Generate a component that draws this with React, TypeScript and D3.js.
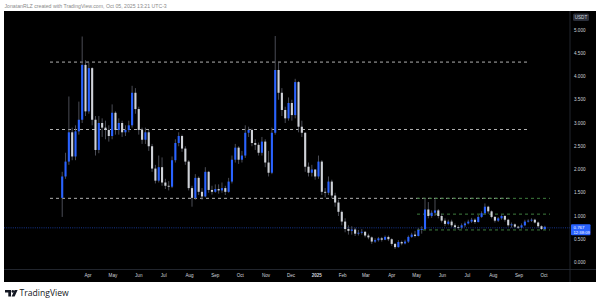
import React from "react";
import * as d3 from "d3";

const HEADER = "JonatanRLZ created with TradingView.com, Oct 05, 2025 13:21 UTC-3";
const START = "2024-03-01";
const STEP_DAYS = 4;
const FIRST_OPEN = 1.39;
const CLOSES = [
  1.85, 2.17, 2.8, 2.28, 2.82, 3.07, 4.25, 3.25, 4.18, 3.07,
  2.42, 3.0, 2.9, 2.85, 2.72, 3.22, 2.85, 3.0, 2.8, 2.85,
  2.95, 3.65, 3.3, 2.85, 2.64, 2.8, 2.5, 2.02, 1.76, 2.05,
  1.72, 1.65, 1.63, 2.2, 2.57, 2.72, 2.45, 2.17, 1.6, 1.39,
  1.82, 1.52, 1.42, 1.95, 1.56, 1.52, 1.58, 1.55, 1.6, 1.52,
  1.74, 2.21, 2.47, 2.21, 2.3, 2.79, 2.85, 2.57, 2.53, 2.36,
  2.6, 2.15, 1.93, 2.79, 4.14, 3.65, 3.28, 3.1, 3.43, 3.17,
  3.88, 2.92, 2.79, 2.06, 1.93, 2.0, 1.85, 2.17, 1.52, 1.5,
  1.74, 1.44, 1.29, 1.09, 0.88, 0.72, 0.68, 0.71, 0.62, 0.64,
  0.66, 0.58, 0.54, 0.45, 0.48, 0.52, 0.49, 0.55, 0.5, 0.4,
  0.33, 0.44, 0.41, 0.45, 0.55, 0.6, 0.57, 0.7, 0.72, 1.14,
  1.0, 1.07, 1.12, 1.0, 0.9, 0.83, 0.88, 0.8, 0.76, 0.75,
  0.8, 0.84, 0.88, 0.92, 0.87, 0.98, 1.06, 1.2, 1.1, 0.98,
  0.9, 0.95, 1.0, 0.92, 0.8, 0.82, 0.77, 0.75, 0.8, 0.88,
  0.9, 0.92, 0.86, 0.78, 0.72, 0.767,
];
const HIGHS = [
  1.95, 2.36, 3.57, 2.9, 2.95, 3.46, 4.86, 4.35, 4.3, 4.2,
  3.15, 3.15, 3.1, 3.05, 2.95, 3.4, 3.25, 3.1, 3.05, 2.95,
  3.05, 3.8, 3.75, 3.35, 2.9, 2.9, 2.85, 2.55, 2.1, 2.3,
  2.26, 1.8, 1.75, 2.28, 2.65, 2.8, 2.75, 2.5, 2.2, 1.65,
  1.9, 1.85, 1.6, 2.05, 1.97, 1.65, 1.68, 1.68, 1.72, 1.65,
  1.82, 2.3, 2.55, 2.5, 2.4, 2.95, 2.92, 2.88, 2.65, 2.58,
  2.7, 2.65, 2.4, 2.9, 4.87, 4.3, 3.75, 3.35, 3.55, 3.5,
  3.95, 3.9, 3.05, 2.8, 2.15, 2.1, 2.0, 2.3, 2.2, 1.6,
  1.85, 1.78, 1.5, 1.35, 1.12, 0.95, 0.8, 0.78, 0.75, 0.7,
  0.72, 0.68, 0.62, 0.56, 0.52, 0.55, 0.55, 0.58, 0.58, 0.52,
  0.42, 0.48, 0.47, 0.49, 0.58, 0.64, 0.68, 0.74, 0.78, 1.38,
  1.3, 1.12, 1.36, 1.15, 1.05, 0.95, 0.92, 0.92, 0.84, 0.8,
  0.84, 0.88, 0.92, 0.96, 0.95, 1.02, 1.1, 1.27, 1.22, 1.12,
  1.0, 0.98, 1.03, 1.02, 0.94, 0.86, 0.84, 0.79, 0.84, 0.92,
  0.93, 0.95, 0.94, 0.88, 0.8, 0.79,
];
const LOWS = [
  0.98, 1.8, 2.1, 2.2, 2.2, 2.75, 3.0, 3.15, 3.2, 2.95,
  2.3, 2.35, 2.7, 2.65, 2.6, 2.65, 2.75, 2.75, 2.7, 2.72,
  2.8, 2.9, 3.2, 2.75, 2.55, 2.55, 2.4, 1.95, 1.7, 1.72,
  1.65, 1.58, 1.55, 1.6, 2.15, 2.5, 2.38, 2.1, 1.55, 1.2,
  1.35, 1.45, 1.35, 1.4, 1.5, 1.46, 1.5, 1.48, 1.5, 1.45,
  1.5, 1.7, 2.15, 2.12, 2.15, 2.25, 2.7, 2.5, 2.42, 2.3,
  2.3, 2.05, 1.85, 1.9, 2.75, 3.5, 3.15, 3.0, 3.05, 3.05,
  3.1, 2.8, 2.7, 1.95, 1.85, 1.85, 1.78, 1.8, 1.45, 1.4,
  1.45, 1.38, 1.2, 1.0, 0.8, 0.65, 0.6, 0.6, 0.57, 0.58,
  0.6, 0.54, 0.5, 0.4, 0.42, 0.45, 0.45, 0.48, 0.46, 0.36,
  0.29, 0.32, 0.37, 0.39, 0.42, 0.53, 0.54, 0.56, 0.62, 0.7,
  0.95, 0.96, 1.0, 0.95, 0.86, 0.78, 0.8, 0.76, 0.72, 0.7,
  0.72, 0.76, 0.82, 0.85, 0.83, 0.86, 0.96, 1.04, 1.05, 0.95,
  0.86, 0.87, 0.92, 0.88, 0.77, 0.75, 0.74, 0.72, 0.73, 0.78,
  0.86, 0.87, 0.84, 0.74, 0.7, 0.7,
];
const PRICE_TICKS = [0, 0.5, 1, 1.5, 2, 2.5, 3, 3.5, 4, 4.5, 5];
const TIME_TICKS: [string, string][] = [
  ["2024-04-01", "Apr"], ["2024-05-01", "May"], ["2024-06-01", "Jun"],
  ["2024-07-01", "Jul"], ["2024-08-01", "Aug"], ["2024-09-01", "Sep"],
  ["2024-10-01", "Oct"], ["2024-11-01", "Nov"], ["2024-12-01", "Dec"],
  ["2025-01-01", "2025"], ["2025-02-01", "Feb"], ["2025-03-01", "Mar"],
  ["2025-04-01", "Apr"], ["2025-05-01", "May"], ["2025-06-01", "Jun"],
  ["2025-07-01", "Jul"], ["2025-08-01", "Aug"], ["2025-09-01", "Sep"],
  ["2025-10-01", "Oct"],
];
const CURRENCY = "USDT";
const LAST_PRICE = 0.767;
const COUNTDOWN = "12:38:09";
const GRAY_LEVELS = [4.31, 2.86, 1.38];
const GREEN_LEVELS = [1.38, 1.04, 0.7];

const FONT = "'Liberation Sans', Arial, sans-serif";
const UP = "#2962ff";
const DOWN = "#cfd2d8";
const WICK = "#5d606b";

export default function App() {
  const W = 600, H = 307;
  const panel = { x0: 4, x1: 596, y0: 11, y1: 282 };
  const axisX = 570;
  const axisY = 269.5;

  const x = d3.scaleUtc()
    .domain([new Date("2024-04-01T00:00:00Z"), new Date("2025-10-01T00:00:00Z")])
    .range([88, 544]);
  const y = d3.scaleLinear().domain([0, 5]).range([262.5, 30]);

  const start = new Date(START + "T00:00:00Z");
  const candles = CLOSES.map((c, i) => {
    const o = i === 0 ? FIRST_OPEN : CLOSES[i - 1];
    const d = d3.utcDay.offset(start, i * STEP_DAYS);
    return {
      d, o, c,
      h: Math.max(HIGHS[i], o, c),
      l: Math.min(LOWS[i], o, c),
    };
  });
  const bw = 2.1;

  const grayExtents: [number, number][] = [[50, 528], [50, 528], [50, 512]];
  const greenExtent: [number, number] = [417, 550];

  return (
    <div style={{ position: "fixed", left: 0, top: 0, width: W, height: H, background: "#fff" }}>
      <svg width={W} height={H} style={{ display: "block" }} fontFamily={FONT}>
        <rect x={0} y={0} width={W} height={H} fill="#fff" />
        <text x={4.5} y={7.5} fontSize={5.2} fill="#8a8a8a">{HEADER}</text>
        <rect x={panel.x0} y={panel.y0} width={panel.x1 - panel.x0} height={panel.y1 - panel.y0} fill="#000" />
        <line x1={axisX} x2={axisX} y1={panel.y0} y2={panel.y1} stroke="#2a2e39" strokeWidth={0.8} />
        <line x1={panel.x0} x2={panel.x1} y1={axisY} y2={axisY} stroke="#2a2e39" strokeWidth={0.8} />

        <line x1={panel.x0} x2={axisX} y1={y(LAST_PRICE) + 1} y2={y(LAST_PRICE) + 1}
          stroke={UP} strokeWidth={0.7} strokeDasharray="1,1.2" opacity={0.8} />

        {GRAY_LEVELS.map((p, i) => (
          <line key={"g" + i} x1={grayExtents[i][0]} x2={grayExtents[i][1]} y1={y(p)} y2={y(p)}
            stroke="#b0b0b0" strokeWidth={1} strokeDasharray="3,3" />
        ))}
        {GREEN_LEVELS.map((p, i) => (
          <line key={"gr" + i} x1={greenExtent[0]} x2={greenExtent[1]} y1={y(p)} y2={y(p)}
            stroke="#3f7d3f" strokeWidth={1} strokeDasharray="3,3" />
        ))}

        {candles.map((k, i) => {
          const cx = x(k.d);
          const up = k.c >= k.o;
          const top = y(Math.max(k.o, k.c));
          const bot = y(Math.min(k.o, k.c));
          return (
            <g key={i}>
              <line x1={cx} x2={cx} y1={y(k.h)} y2={y(k.l)} stroke={WICK} strokeWidth={0.8} />
              <rect x={cx - bw / 2} y={top} width={bw} height={Math.max(0.8, bot - top)} fill={up ? UP : DOWN} />
            </g>
          );
        })}

        <rect x={573} y={13.5} width={16} height={7.5} rx={1.5} fill="#2a2e39" />
        <text x={581} y={19} fontSize={4.6} fill="#d1d4dc" textAnchor="middle">{CURRENCY}</text>
        {PRICE_TICKS.map((p) => (
          <text key={p} x={574} y={y(p) + 1.6} fontSize={4.6} fill="#d1d4dc">{p.toFixed(3)}</text>
        ))}
        <rect x={571} y={y(LAST_PRICE) - 2.5} width={19.5} height={11} rx={1} fill={UP} />
        <text x={573.5} y={y(LAST_PRICE) + 2.6} fontSize={4.4} fill="#fff">{LAST_PRICE.toFixed(3)}</text>
        <text x={573.5} y={y(LAST_PRICE) + 7.2} fontSize={4.2} fill="#fff">{COUNTDOWN}</text>

        {TIME_TICKS.map(([d, label]) => (
          <text key={d} x={x(new Date(d + "T00:00:00Z"))} y={277} fontSize={4.6} textAnchor="middle"
            fill="#d1d4dc" fontWeight={label === "2025" ? 700 : 400}>{label}</text>
        ))}

        <g fill="#131722">
          <path d="M5,290 H11 V296.5 H8.3 V292.4 H5 Z" />
          <circle cx={12.8} cy={291.4} r={1.3} />
          <path d="M14.6,290 H17.6 L14.6,296.5 H11.6 Z" />
        </g>
        <text x={19.5} y={296.3} fontSize={8.6} fill="#131722" fontFamily="'Open Sans', 'Liberation Sans', sans-serif">TradingView</text>
      </svg>
    </div>
  );
}
